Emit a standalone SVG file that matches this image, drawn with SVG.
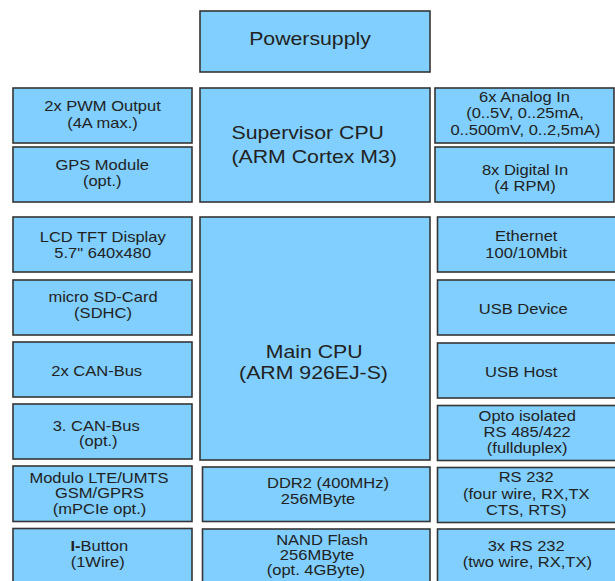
<svg xmlns="http://www.w3.org/2000/svg" width="615" height="581" viewBox="0 0 615 581">
<style>
rect{fill:#80CFFE;stroke:#353535;stroke-width:1.6}
text{font-family:"Liberation Sans",Arial,sans-serif;fill:#222;text-anchor:middle}
.s{font-size:14px}
.l{font-size:18.5px}
</style>
<rect x="0" y="0" width="615" height="581" style="fill:#fff;stroke:none"/>
<g id="connectors"/>
<g id="powersupply"><rect x="200" y="11" width="230" height="61"/>
<text class="l" transform="translate(310,45) scale(1.15,1)">Powersupply</text></g>
<g id="pwm"><rect x="13" y="88" width="179" height="55"/>
<text class="s" transform="translate(102.5,111) scale(1.18,1)">2x PWM Output</text>
<text class="s" transform="translate(102.5,127.5) scale(1.18,1)">(4A max.)</text></g>
<g id="gps"><rect x="13" y="147" width="179" height="55"/>
<text class="s" transform="translate(102.2,169.5) scale(1.18,1)">GPS Module</text>
<text class="s" transform="translate(102.2,186) scale(1.18,1)">(opt.)</text></g>
<g id="supervisor"><rect x="200" y="88" width="230" height="114"/>
<text class="l" style="text-anchor:start" transform="translate(231.5,138.5) scale(1.15,1)">Supervisor CPU</text>
<text class="l" style="text-anchor:start" transform="translate(231.5,162.5) scale(1.15,1)">(ARM Cortex M3)</text></g>
<g id="analog"><rect x="435" y="88" width="179" height="55"/>
<text class="s" transform="translate(524.5,101.7) scale(1.18,1)">6x Analog In</text>
<text class="s" transform="translate(525,118.3) scale(1.18,1)">(0..5V, 0..25mA,</text>
<text class="s" transform="translate(525.3,134.7) scale(1.18,1)">0..500mV, 0..2,5mA)</text></g>
<g id="digital"><rect x="435" y="147" width="179" height="55"/>
<text class="s" transform="translate(525,175) scale(1.18,1)">8x Digital In</text>
<text class="s" transform="translate(525,191) scale(1.18,1)">(4 RPM)</text></g>
<g id="lcd"><rect x="13" y="217" width="179" height="55"/>
<text class="s" transform="translate(102.7,241.7) scale(1.18,1)">LCD TFT Display</text>
<text class="s" transform="translate(102.7,258.3) scale(1.18,1)">5.7" 640x480</text></g>
<g id="sdcard"><rect x="13" y="280" width="179" height="55"/>
<text class="s" transform="translate(103,301.7) scale(1.18,1)">micro SD-Card</text>
<text class="s" transform="translate(103,318.3) scale(1.18,1)">(SDHC)</text></g>
<g id="can"><rect x="13" y="342" width="179" height="55"/>
<text class="s" transform="translate(96.7,375.7) scale(1.18,1)">2x CAN-Bus</text></g>
<g id="can3"><rect x="13" y="404" width="179" height="55"/>
<text class="s" transform="translate(96.2,430.7) scale(1.18,1)">3. CAN-Bus</text>
<text class="s" transform="translate(98.3,446.2) scale(1.18,1)">(opt.)</text></g>
<g id="maincpu"><rect x="200" y="217" width="230" height="243"/>
<text class="l" transform="translate(314.2,357.5) scale(1.15,1)">Main CPU</text>
<text class="l" transform="translate(313.5,378.5) scale(1.15,1)">(ARM 926EJ-S)</text></g>
<g id="ethernet"><rect x="437.5" y="217" width="179" height="55"/>
<text class="s" transform="translate(526.2,241) scale(1.18,1)">Ethernet</text>
<text class="s" transform="translate(526.2,258.3) scale(1.18,1)">100/10Mbit</text></g>
<g id="usbdevice"><rect x="437.5" y="280" width="179" height="55"/>
<text class="s" transform="translate(523.3,314) scale(1.18,1)">USB Device</text></g>
<g id="usbhost"><rect x="437.5" y="343" width="179" height="55"/>
<text class="s" transform="translate(521.2,376.7) scale(1.18,1)">USB Host</text></g>
<g id="opto"><rect x="437.5" y="405.5" width="179" height="55"/>
<text class="s" transform="translate(527.2,420.7) scale(1.18,1)">Opto isolated</text>
<text class="s" transform="translate(527.2,437.3) scale(1.18,1)">RS 485/422</text>
<text class="s" transform="translate(527.2,453.3) scale(1.18,1)">(fullduplex)</text></g>
<g id="modulo"><rect x="13" y="466" width="179" height="55.5"/>
<text class="s" transform="translate(99,482.7) scale(1.18,1)">Modulo LTE/UMTS</text>
<text class="s" transform="translate(99.5,498.3) scale(1.18,1)">GSM/GPRS</text>
<text class="s" transform="translate(99.5,514) scale(1.18,1)">(mPCIe opt.)</text></g>
<g id="ibutton"><rect x="13" y="528.5" width="179" height="60"/>
<text class="s" transform="translate(99.3,550.7) scale(1.18,1)"><tspan font-weight="bold">I-</tspan>Button</text>
<text class="s" transform="translate(97.7,566.7) scale(1.18,1)">(1Wire)</text></g>
<g id="ddr2"><rect x="202.5" y="467" width="227.5" height="54.5"/>
<text class="s" transform="translate(328,488.3) scale(1.18,1)">DDR2 (400MHz)</text>
<text class="s" transform="translate(318,504.3) scale(1.18,1)">256MByte</text></g>
<g id="nand"><rect x="202.5" y="529" width="227.5" height="60"/>
<text class="s" transform="translate(322,544.5) scale(1.18,1)">NAND Flash</text>
<text class="s" transform="translate(317,560) scale(1.18,1)">256MByte</text>
<text class="s" transform="translate(315.8,575) scale(1.18,1)">(opt. 4GByte)</text></g>
<g id="rs232"><rect x="437.5" y="467.5" width="179" height="55"/>
<text class="s" transform="translate(526.2,482.3) scale(1.18,1)">RS 232</text>
<text class="s" transform="translate(526.3,499) scale(1.18,1)">(four wire, RX,TX</text>
<text class="s" transform="translate(526.2,515) scale(1.18,1)">CTS, RTS)</text></g>
<g id="rs232x3"><rect x="437.5" y="529" width="179" height="60"/>
<text class="s" transform="translate(526.2,551) scale(1.18,1)">3x RS 232</text>
<text class="s" transform="translate(527.3,567.3) scale(1.18,1)">(two wire, RX,TX)</text></g>
</svg>
